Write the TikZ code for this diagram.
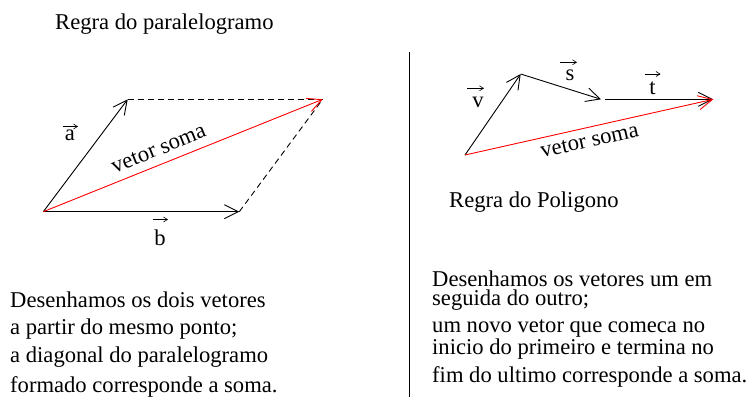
\documentclass[tikz,border=0pt]{standalone}
\usepackage{fontspec}
\setmainfont{Liberation Serif}
\usetikzlibrary{arrows.meta}
\tikzset{
  vecline/.style={line width=0.9pt, -{Straight Barb[length=14pt,width=14pt,line width=0.9pt]}},
  labarrow/.style={line width=0.6pt, -{Straight Barb[length=4pt,width=5pt,line width=0.6pt]}},
  dashline/.style={line width=0.9pt, dash pattern=on 6pt off 4pt},
  txt/.style={font=\fontsize{22.6}{27}\selectfont, inner sep=0pt, anchor=base west},
  lab/.style={font=\fontsize{22.6}{27}\selectfont, inner sep=0pt, anchor=base},
}
\begin{document}
\begin{tikzpicture}[x=1pt,y=1pt]
\useasboundingbox (0,0) rectangle (747,-405);
% left: parallelogram rule
\coordinate (O) at (43.3,-211.7);
\coordinate (A) at (127.7,-99.3);
\coordinate (B) at (239.3,-211.7);
\coordinate (D) at (322.7,-99.3);
\draw[dashline] (A) -- (D);
\draw[dashline] (B) -- (D);
\draw[vecline] (O) -- (A);
\draw[vecline] (O) -- (B);
\draw[vecline, red] (O) -- (D);
\node[lab] (la) at (70,-140.5) {a};
\draw[labarrow] ([xshift=-7pt,yshift=14pt]la.base) -- ([xshift=8pt,yshift=14pt]la.base);
\node[lab] (lb) at (160,-245) {b};
\draw[labarrow] ([xshift=-7pt,yshift=25.5pt]lb.base) -- ([xshift=8pt,yshift=25.5pt]lb.base);
\node[txt, rotate=21.9] (ls) at (114.5,-173.5) {vetor soma};
\node[txt] (t1) at (55,-29) {Regra do paralelogramo};
\node[txt] (l1) at (10,-307) {Desenhamos os dois vetores};
\node[txt] (l2) at (10,-334) {a partir do mesmo ponto;};
\node[txt] (l3) at (10,-362) {a diagonal do paralelogramo};
\node[txt] (l4) at (10,-392.5) {formado corresponde a soma.};
% divider
\coordinate (V1) at (409,-52);
\coordinate (V2) at (409,-397);
\draw[line width=0.9pt] (V1) -- (V2);
% right: polygon rule
\coordinate (P0) at (465,-155);
\coordinate (P1) at (520.7,-74);
\coordinate (P2) at (601,-99.3);
\coordinate (P3) at (605,-99.3);
\coordinate (P4) at (713.3,-99.3);
\draw[vecline] (P0) -- (P1);
\draw[vecline] (P1) -- (P2);
\draw[vecline] (P3) -- (P4);
\draw[vecline, red] (P0) -- (P4);
\node[lab] (lv) at (478,-107.7) {v};
\draw[labarrow] ([xshift=-11pt,yshift=19.4pt]lv.base) -- ([xshift=6pt,yshift=19.4pt]lv.base);
\node[lab] (lsv) at (570,-80) {s};
\draw[labarrow] ([xshift=-10pt,yshift=17.7pt]lsv.base) -- ([xshift=7pt,yshift=17.7pt]lsv.base);
\node[lab] (lt) at (652.5,-94.3) {t};
\draw[labarrow] ([xshift=-8pt,yshift=20.3pt]lt.base) -- ([xshift=8pt,yshift=20.3pt]lt.base);
\node[txt, rotate=12.6] (rs) at (542,-158) {vetor soma};
\node[txt] (t2) at (449,-207.7) {Regra do Poligono};
\node[txt] (r1) at (432,-286.4) {Desenhamos os vetores um em};
\node[txt] (r2) at (432,-305.5) {seguida do outro;};
\node[txt] (r3) at (432,-332) {um novo vetor que comeca no};
\node[txt] (r4) at (432,-354) {inicio do primeiro e termina no};
\node[txt] (r5) at (432,-382) {fim do ultimo corresponde a soma.};
\end{tikzpicture}
\end{document}
